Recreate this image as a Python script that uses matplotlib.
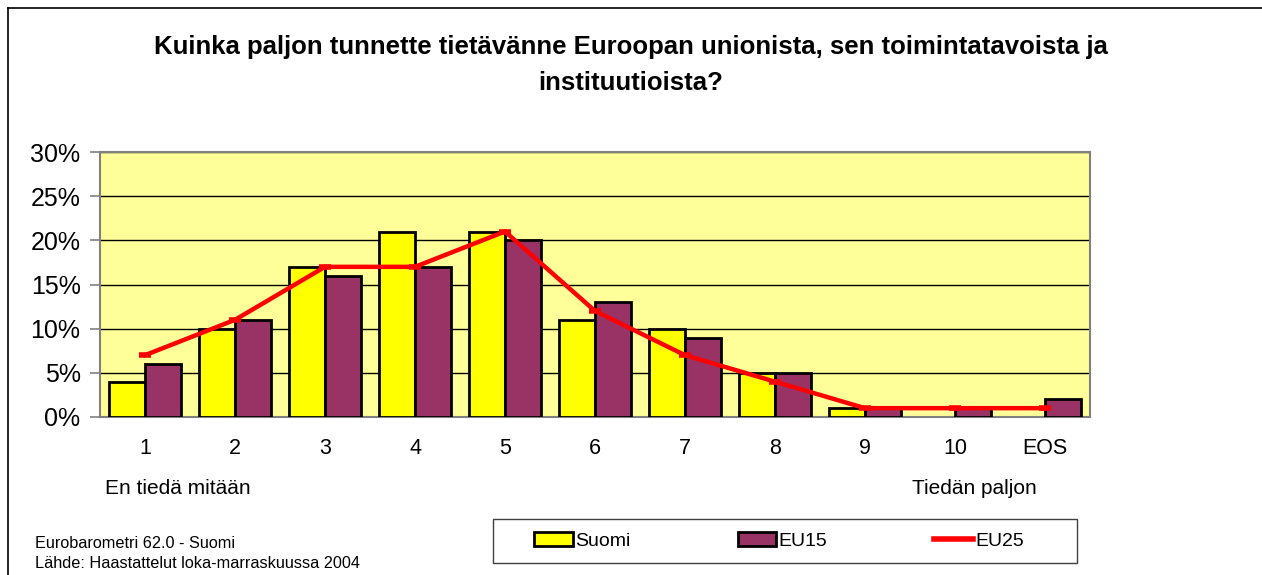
# eurobarometri_tuntemus.py
# Kuinka paljon tunnette EU:sta - Suomi / EU15 / EU25

import numpy as np
import matplotlib.pyplot as plt
from matplotlib.lines import Line2D
from matplotlib.patches import Patch, Rectangle

plt.rcParams["font.family"] = ["Liberation Sans", "DejaVu Sans"]

CATEGORIES = ["1", "2", "3", "4", "5", "6", "7", "8", "9", "10", "EOS"]
SUOMI = [4, 10, 17, 21, 21, 11, 10, 5, 1, 0, 0]
EU15 = [6, 11, 16, 17, 20, 13, 9, 5, 1, 1, 2]
EU25 = [7, 11, 17, 17, 21, 12, 7, 4, 1, 1, 1]
YTICKS = [0, 5, 10, 15, 20, 25, 30]

TITLE = "Kuinka paljon tunnette tietävänne Euroopan unionista, sen toimintatavoista ja\ninstituutioista?"

YELLOW = "#FFFF00"
PURPLE = "#993366"
RED = "#FF0000"

fig = plt.figure(figsize=(12.62, 5.75), dpi=100)
ax = fig.add_axes([100 / 1262, 1 - 417 / 575, 990 / 1262, 265 / 575])
ax.set_facecolor("#FFFF99")

x = np.arange(len(CATEGORIES))
w = 0.4
# zero-valued bars are not drawn at all in the original
ax.bar(x - w / 2, SUOMI, w, color=YELLOW, edgecolor="black",
       linewidth=[2 if v > 0 else 0 for v in SUOMI], zorder=3)
ax.bar(x + w / 2, EU15, w, color=PURPLE, edgecolor="black",
       linewidth=[2 if v > 0 else 0 for v in EU15], zorder=3)
ax.plot(x, EU25, color=RED, linewidth=3.2, marker="_", markersize=9,
        markeredgewidth=4, zorder=4)

ax.set_xlim(-0.5, len(CATEGORIES) - 0.5)
ax.set_ylim(0, 30)
ax.set_yticks(YTICKS)
ax.set_yticklabels([f"{v}%" for v in YTICKS], fontsize=18)
ax.set_xticks(x)
ax.set_xticklabels(CATEGORIES, fontsize=15.5)
ax.tick_params(axis="x", length=0, pad=15)
ax.tick_params(axis="y", length=7, direction="out", color="#808080", width=1.2, pad=7)
ax.yaxis.grid(True, color="black", linewidth=1, zorder=0)
ax.set_axisbelow(True)
for side in ax.spines:
    ax.spines[side].set_color("#808080")
    ax.spines[side].set_linewidth(1.5)

fig.text(0.5, 1 - 65 / 575, TITLE, ha="center", va="center", fontsize=18.5,
         fontweight="bold", linespacing=1.6)

fig.text(105 / 1262, 1 - 489 / 575, "En tiedä mitään", fontsize=15, va="center")
fig.text(912 / 1262, 1 - 489 / 575, "Tiedän paljon", fontsize=15, va="center")
fig.text(35 / 1262, 1 - 543 / 575, "Eurobarometri 62.0 - Suomi", fontsize=11.7, va="center")
fig.text(35 / 1262, 1 - 564 / 575, "Lähde: Haastattelut loka-marraskuussa 2004", fontsize=11.7,
         va="center")

# legend box drawn separately, entries placed inside it
fig.add_artist(Rectangle((493 / 1262, 1 - 563 / 575), 584 / 1262, 44 / 575,
                         transform=fig.transFigure, facecolor="white",
                         edgecolor="#404040", linewidth=1))
handles = [
    Patch(facecolor=YELLOW, edgecolor="black", linewidth=2),
    Patch(facecolor=PURPLE, edgecolor="black", linewidth=2),
    Line2D([], [], color=RED, linewidth=4),
]
fig.legend(handles, ["Suomi", "EU15", "EU25"], loc="center",
           bbox_to_anchor=(779 / 1262, 1 - 541 / 575),
           ncol=3, fontsize=14, frameon=False, handlelength=2.0, handleheight=0.75,
           handletextpad=0.1, columnspacing=5.5, borderpad=0, borderaxespad=0)

# outer chart frame (top and left edges)
fig.add_artist(Line2D([8 / 1262, 1], [1 - 8 / 575, 1 - 8 / 575], color="black", linewidth=1.2))
fig.add_artist(Line2D([8 / 1262, 8 / 1262], [0, 1 - 8 / 575], color="black", linewidth=1.2))

fig.savefig("out.png", dpi=100)
